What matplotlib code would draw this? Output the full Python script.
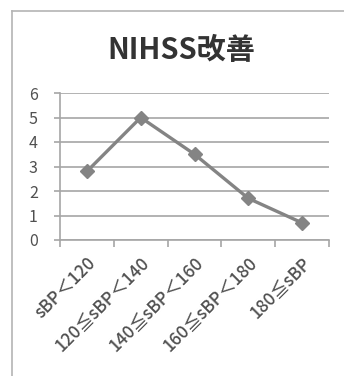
import matplotlib
matplotlib.use("Agg")
import matplotlib.pyplot as plt
from matplotlib.lines import Line2D

plt.rcParams['font.family'] = ['Noto Sans CJK JP', 'DejaVu Sans']

categories = ["sBP＜120", "120≦sBP＜140", "140≦sBP＜160", "160≦sBP＜180", "180≦sBP"]
values = [2.8, 5.0, 3.5, 1.7, 0.7]
yticks = [0, 1, 2, 3, 4, 5, 6]
title = "NIHSS改善"

W, H = 344, 376
fig = plt.figure(figsize=(W / 100, H / 100), dpi=100)
fig.patch.set_facecolor("white")

# outer chart frame (top and left edges visible)
frame_col = "#b4b4b4"
fig.add_artist(Line2D([12 / W, 1.0], [1 - 11 / H, 1 - 11 / H], color=frame_col, lw=1.2))
fig.add_artist(Line2D([12 / W, 12 / W], [0.0, 1 - 11 / H], color=frame_col, lw=1.2))

ax = fig.add_axes([60 / W, 1 - 240 / H, (329 - 60) / W, (240 - 93) / H])

grid_col = "#a6a6a6"
text_col = "#505050"
line_col = "#848484"

x = list(range(len(categories)))
ax.plot(x, values, color=line_col, lw=2.4, marker="D", markersize=7.5,
        markerfacecolor=line_col, markeredgecolor=line_col, zorder=3)

ax.set_xlim(-0.5, len(categories) - 0.5)
ax.set_ylim(0, 6)
ax.set_yticks(yticks)
ax.set_yticklabels([str(v) for v in yticks])
ax.yaxis.grid(True, color=grid_col, lw=1.2)
ax.set_axisbelow(True)

for s in ["top", "right"]:
    ax.spines[s].set_visible(False)
ax.spines["left"].set_color(grid_col)
ax.spines["bottom"].set_color(grid_col)
ax.spines["left"].set_linewidth(1.2)
ax.spines["bottom"].set_linewidth(1.2)

ax.tick_params(axis="y", length=4, width=1.2, color=grid_col, pad=12,
               labelsize=11.5, labelcolor=text_col)

# category boundary ticks on the x axis
ax.set_xticks([i - 0.5 for i in range(len(categories) + 1)], minor=False)
ax.set_xticklabels([])
ax.tick_params(axis="x", length=5, width=1.2, color=grid_col, direction="out")
ax.set_xticks(x, minor=True)
ax.set_xticklabels(categories, minor=True, rotation=45, ha="right", va="top",
                   rotation_mode="anchor", fontsize=12.5, fontweight="medium",
                   color=text_col)
ax.tick_params(axis="x", which="minor", length=0, pad=10)

fig.text(181 / W, 1 - 50 / H, title, ha="center", va="center",
         fontsize=21, fontweight="bold", color="#333333")

fig.savefig("out.png", dpi=100, facecolor="white")
